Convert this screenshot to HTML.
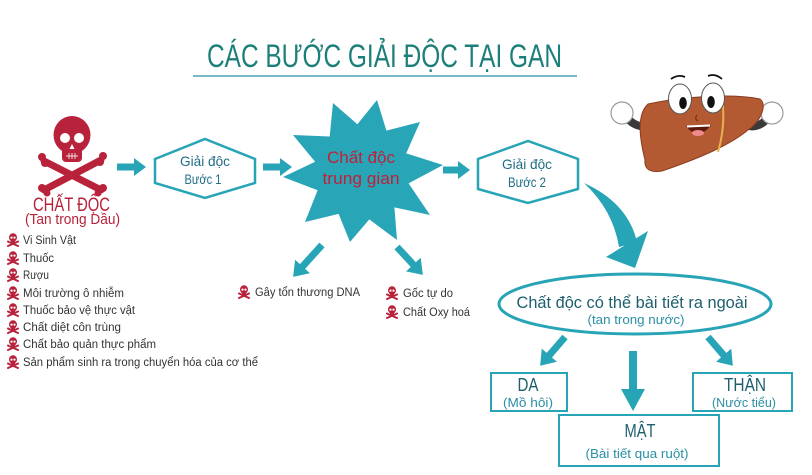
<!DOCTYPE html>
<html>
<head>
<meta charset="utf-8">
<style>
  html,body{margin:0;padding:0;background:#fff;}
  body{width:812px;height:475px;overflow:hidden;}
  svg{display:block;}
  text{font-family:"Liberation Sans","DejaVu Sans",sans-serif;}
</style>
</head>
<body>
<svg width="812" height="475" viewBox="0 0 812 475" xmlns="http://www.w3.org/2000/svg">
  <defs>
    <symbol id="sk" viewBox="0 0 12 14">
      <line x1="1" y1="8.5" x2="11" y2="13" stroke="#b8223a" stroke-width="2" stroke-linecap="round"/>
      <line x1="11" y1="8.5" x2="1" y2="13" stroke="#b8223a" stroke-width="2" stroke-linecap="round"/>
      <ellipse cx="6" cy="4.5" rx="4" ry="4.2" fill="#b8223a"/>
      <rect x="4" y="6.5" width="4" height="3.5" rx="1" fill="#b8223a"/>
      <circle cx="4.5" cy="4.6" r="1.1" fill="#fff"/>
      <circle cx="7.5" cy="4.6" r="1.1" fill="#fff"/>
    </symbol>
  </defs>

  <!-- Title -->
  <text x="207" y="67" font-size="32" fill="#1c7f79" textLength="355" lengthAdjust="spacingAndGlyphs">CÁC BƯỚC GIẢI ĐỘC TẠI GAN</text>
  <line x1="193" y1="76" x2="577" y2="76" stroke="#4c9fb3" stroke-width="1.6"/>

  <!-- Big skull -->
  <g>
    <line x1="44" y1="161" x2="101" y2="190" stroke="#b8223a" stroke-width="7" stroke-linecap="round"/>
    <line x1="101" y1="160" x2="44" y2="190" stroke="#b8223a" stroke-width="7" stroke-linecap="round"/>
    <circle cx="42" cy="157" r="4" fill="#b8223a"/><circle cx="45" cy="163" r="4" fill="#b8223a"/>
    <circle cx="103" cy="156" r="4" fill="#b8223a"/><circle cx="100" cy="162" r="4" fill="#b8223a"/>
    <circle cx="42" cy="188" r="4" fill="#b8223a"/><circle cx="47" cy="193" r="3.5" fill="#b8223a"/>
    <circle cx="103" cy="188" r="4" fill="#b8223a"/><circle cx="98" cy="193" r="3.5" fill="#b8223a"/>
    <ellipse cx="72" cy="135" rx="18.5" ry="19" fill="#b8223a"/>
    <rect x="62" y="145" width="20" height="17" rx="4" fill="#b8223a"/>
    <ellipse cx="65" cy="138" rx="5" ry="5" fill="#fff"/>
    <ellipse cx="79" cy="138" rx="5" ry="5" fill="#fff"/>
    <path d="M72,144 L69.5,149 L74.5,149 Z" fill="#fff"/>
    <line x1="66" y1="156" x2="78" y2="156" stroke="#fff" stroke-width="0.8"/>
    <line x1="69" y1="153" x2="69" y2="159" stroke="#fff" stroke-width="0.8"/>
    <line x1="72" y1="153" x2="72" y2="159" stroke="#fff" stroke-width="0.8"/>
    <line x1="75" y1="153" x2="75" y2="159" stroke="#fff" stroke-width="0.8"/>
  </g>
  <text x="33" y="211" font-size="19" fill="#b8223a" textLength="77" lengthAdjust="spacingAndGlyphs">CHẤT ĐỘC</text>
  <text x="25" y="224" font-size="14.5" fill="#b8223a" textLength="95" lengthAdjust="spacingAndGlyphs">(Tan trong Dầu)</text>

  <!-- List -->
  <g font-size="11.5" fill="#333">
    <use href="#sk" x="7" y="233" width="12" height="14"/>
    <text x="23" y="244" textLength="53" lengthAdjust="spacingAndGlyphs">Vi Sinh Vật</text>
    <use href="#sk" x="7" y="251" width="12" height="14"/>
    <text x="23" y="262" textLength="31" lengthAdjust="spacingAndGlyphs">Thuốc</text>
    <use href="#sk" x="7" y="268" width="12" height="14"/>
    <text x="23" y="279" textLength="26" lengthAdjust="spacingAndGlyphs">Rượu</text>
    <use href="#sk" x="7" y="286" width="12" height="14"/>
    <text x="23" y="297" textLength="101" lengthAdjust="spacingAndGlyphs">Môi trường ô nhiễm</text>
    <use href="#sk" x="7" y="303" width="12" height="14"/>
    <text x="23" y="314" textLength="112" lengthAdjust="spacingAndGlyphs">Thuốc bảo vệ thực vật</text>
    <use href="#sk" x="7" y="320" width="12" height="14"/>
    <text x="23" y="331" textLength="98" lengthAdjust="spacingAndGlyphs">Chất diệt côn trùng</text>
    <use href="#sk" x="7" y="337" width="12" height="14"/>
    <text x="23" y="348" textLength="133" lengthAdjust="spacingAndGlyphs">Chất bảo quản thực phẩm</text>
    <use href="#sk" x="7" y="355" width="12" height="14"/>
    <text x="23" y="366" textLength="235" lengthAdjust="spacingAndGlyphs">Sản phẩm sinh ra trong chuyển hóa của cơ thể</text>
  </g>

  <!-- Arrows -->
  <g fill="#27a4b6">
    <path transform="translate(117,167)" d="M0,-3.5 L17,-3.5 L17,-9 L29,0 L17,9 L17,3.5 L0,3.5Z"/>
    <path transform="translate(263,167)" d="M0,-3.5 L17,-3.5 L17,-9 L29,0 L17,9 L17,3.5 L0,3.5Z"/>
    <path transform="translate(443,170)" d="M0,-3.5 L15,-3.5 L15,-9 L27,0 L15,9 L15,3.5 L0,3.5Z"/>
    <path transform="translate(322,245) rotate(132.2)" d="M0,-3.5 L29,-3.5 L29,-10 L43,0 L29,10 L29,3.5 L0,3.5Z"/>
    <path transform="translate(397,247) rotate(47.1)" d="M0,-3.5 L24,-3.5 L24,-10 L38,0 L24,10 L24,3.5 L0,3.5Z"/>
    <path transform="translate(565,337) rotate(130.8)" d="M0,-3.5 L24,-3.5 L24,-10 L38,0 L24,10 L24,3.5 L0,3.5Z"/>
    <path transform="translate(708,337) rotate(49.2)" d="M0,-3.5 L24,-3.5 L24,-10 L38,0 L24,10 L24,3.5 L0,3.5Z"/>
    <path transform="translate(633,351) rotate(90)" d="M0,-4 L38,-4 L38,-12 L60,0 L38,12 L38,4 L0,4Z"/>
    <!-- curved arrow -->
    <path d="M584,183 Q628,203 637,242 L619,247 Q613,210 584,183Z"/>
    <path d="M606,257 L648,231 L635,268Z"/>
  </g>

  <!-- Hexagons -->
  <polygon points="155,159 205,139 255,159 255,183 205,198 155,183" fill="#fff" stroke="#27a4b6" stroke-width="2.5"/>
  <text x="205" y="166" font-size="14" fill="#1f6d86" text-anchor="middle" textLength="50" lengthAdjust="spacingAndGlyphs">Giải độc</text>
  <text x="203" y="184" font-size="14" fill="#1f6d86" text-anchor="middle" textLength="37" lengthAdjust="spacingAndGlyphs">Bước 1</text>

  <polygon points="478,159 528,141 578,159 578,189 528,203 478,189" fill="#fff" stroke="#27a4b6" stroke-width="2.5"/>
  <text x="527" y="169" font-size="14" fill="#1f6d86" text-anchor="middle" textLength="50" lengthAdjust="spacingAndGlyphs">Giải độc</text>
  <text x="527" y="187" font-size="14" fill="#1f6d86" text-anchor="middle" textLength="38" lengthAdjust="spacingAndGlyphs">Bước 2</text>

  <!-- Star -->
  <polygon fill="#29a5b8" points="377,100 386.4,130.6 420,122 406.2,153.4 443,165 408.6,183.4 430,215 394.4,207.4 397,240 369.3,219.4 350,242 338.6,213.9 305,222 317.6,190.3 283,177 315.1,161.8 293,135 329.7,136.5 333,103 357.4,124.2"/>
  <text x="361" y="163" font-size="17" fill="#c0203a" text-anchor="middle" textLength="68" lengthAdjust="spacingAndGlyphs">Chất độc</text>
  <text x="361" y="184" font-size="17" fill="#c0203a" text-anchor="middle" textLength="77" lengthAdjust="spacingAndGlyphs">trung gian</text>

  <!-- Small skull labels -->
  <use href="#sk" x="238" y="285" width="12" height="14"/>
  <text x="255" y="296" font-size="11.5" fill="#333" textLength="105" lengthAdjust="spacingAndGlyphs">Gây tổn thương DNA</text>
  <use href="#sk" x="386" y="286" width="12" height="14"/>
  <text x="403" y="297" font-size="11.5" fill="#333" textLength="50" lengthAdjust="spacingAndGlyphs">Gốc tự do</text>
  <use href="#sk" x="386" y="305" width="12" height="14"/>
  <text x="403" y="316" font-size="11.5" fill="#333" textLength="67" lengthAdjust="spacingAndGlyphs">Chất Oxy hoá</text>

  <!-- Ellipse -->
  <ellipse cx="635" cy="304" rx="136" ry="30" fill="#fff" stroke="#27a4b6" stroke-width="3"/>
  <text x="632" y="308" font-size="17" fill="#1e5f6e" text-anchor="middle" textLength="231" lengthAdjust="spacingAndGlyphs">Chất độc có thể bài tiết ra ngoài</text>
  <text x="636" y="324" font-size="12.5" fill="#2a8fa5" text-anchor="middle" textLength="97" lengthAdjust="spacingAndGlyphs">(tan trong nước)</text>

  <!-- Boxes -->
  <rect x="491" y="373" width="76" height="38" fill="#fff" stroke="#27a4b6" stroke-width="2"/>
  <text x="528" y="391" font-size="18" fill="#1e5f6e" text-anchor="middle" textLength="21" lengthAdjust="spacingAndGlyphs">DA</text>
  <text x="528" y="407" font-size="13" fill="#2a8fa5" text-anchor="middle" textLength="50" lengthAdjust="spacingAndGlyphs">(Mồ hôi)</text>

  <rect x="693" y="373" width="99" height="38" fill="#fff" stroke="#27a4b6" stroke-width="2"/>
  <text x="745" y="391" font-size="18" fill="#1e5f6e" text-anchor="middle" textLength="42" lengthAdjust="spacingAndGlyphs">THẬN</text>
  <text x="744" y="407" font-size="13" fill="#2a8fa5" text-anchor="middle" textLength="64" lengthAdjust="spacingAndGlyphs">(Nước tiểu)</text>

  <rect x="559" y="415" width="160" height="51" fill="#fff" stroke="#27a4b6" stroke-width="2"/>
  <text x="640" y="437" font-size="18" fill="#1e5f6e" text-anchor="middle" textLength="31" lengthAdjust="spacingAndGlyphs">MẬT</text>
  <text x="637" y="458" font-size="13" fill="#2a8fa5" text-anchor="middle" textLength="103" lengthAdjust="spacingAndGlyphs">(Bài tiết qua ruột)</text>

  <!-- Liver mascot -->
  <g>
    <path d="M629,120 Q640,130 652,124" stroke="#3a3a3a" stroke-width="8" fill="none" stroke-linecap="round"/>
    <path d="M766,120 Q756,130 744,124" stroke="#3a3a3a" stroke-width="8" fill="none" stroke-linecap="round"/>
    <circle cx="622" cy="113" r="11" fill="#fff" stroke="#9a9a9a" stroke-width="1.2"/>
    <circle cx="772" cy="113" r="11" fill="#fff" stroke="#9a9a9a" stroke-width="1.2"/>
    <path d="M648,104 C680,97 730,93 760,99 C768,105 760,122 748,130 C730,145 700,158 662,171 C650,173 644,169 645,160 C640,140 636,115 648,104 Z" fill="#b45a32" stroke="#8a3d20" stroke-width="1"/>
    <path d="M722,96 Q726,125 718,152" stroke="#e6b24f" stroke-width="2" fill="none"/>
    <ellipse cx="680" cy="99" rx="11.5" ry="15" fill="#fff" stroke="#555" stroke-width="1"/>
    <ellipse cx="713" cy="98" rx="11.5" ry="15" fill="#fff" stroke="#555" stroke-width="1"/>
    <ellipse cx="683" cy="103" rx="3.8" ry="6" fill="#111"/>
    <ellipse cx="711" cy="102" rx="3.8" ry="6" fill="#111"/>
    <path d="M671,79 Q678,74 685,77" stroke="#111" stroke-width="1.8" fill="none"/>
    <path d="M708,76 Q715,73 722,79" stroke="#111" stroke-width="1.8" fill="none"/>
    <path d="M697,115 Q694,119 698,121" stroke="#6b2a14" stroke-width="1" fill="none"/>
    <path d="M686,126 Q698,142 711,125 Z" fill="#5a1a10"/>
    <ellipse cx="698" cy="133" rx="6" ry="3" fill="#f08a8a"/>
    <path d="M687,126.5 L710,125.5" stroke="#fff" stroke-width="2"/>
  </g>
</svg>
</body>
</html>
